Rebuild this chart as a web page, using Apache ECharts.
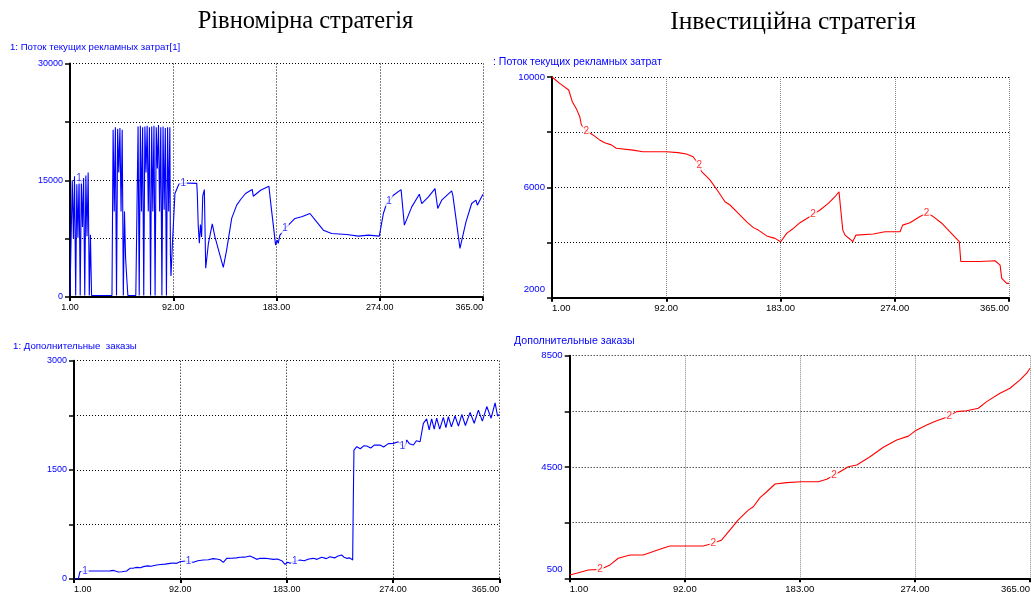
<!DOCTYPE html>
<html><head><meta charset="utf-8">
<script src="https://cdn.jsdelivr.net/npm/echarts@6/dist/echarts.min.js"></script>
<style>html,body{margin:0;padding:0;background:#fff}#c{width:1034px;height:596px}</style>
</head><body><div id="c"></div>
<script>
// ---------- DATA (day, value) ----------
const dayTicks = [1, 92, 183, 274, 365];

// Рівномірна стратегія: Поток текущих рекламных затрат[1]
const spendUniform = [
 [1,200],[2,200],[3,15000],[4,7500],[5,15500],[6,200],[7,14500],[8,7600],[9,15200],[10,200],
 [11,15000],[12,9000],[13,15300],[14,200],[15,15600],[16,7800],[17,16000],[18,200],[19,8000],[20,200],
 [38,200],[39,21500],[40,11000],[41,21800],[42,200],[43,21600],[44,16000],[45,21700],[46,11000],[47,21500],
 [48,200],[49,11000],[50,5000],[51,2500],[52,200],[59,200],[60,11000],[61,21900],[62,200],[63,22000],
 [64,11000],[65,21800],[66,200],[67,21900],[68,16000],[69,22000],[70,11000],[71,21800],[72,200],[73,21900],
 [74,11000],[75,22000],[76,200],[77,21800],[78,16500],[79,22100],[80,11000],[81,21800],[82,200],[83,21900],
 [84,11200],[85,21700],[86,200],[87,21800],[88,11000],[89,21800],[89.5,5500],[90,2700],[91,6000],[92,9000],
 [93.5,13300],[95.9,14140],[97,14500],[100.8,14650],[112.7,14600],[113.2,13300],[114,9200],[115,6900],[116,9300],[117,7700],
 [118,13000],[119.4,13800],[120.6,3700],[123,6900],[126.4,9400],[128.8,7700],[136.1,3800],[139,6000],[143.5,10100],[147.9,11800],
 [149,11580],[151.4,12530],[155.7,13300],[161.6,13820],[162.5,12950],[169,13720],[176.3,14230],[177.2,14000],[178.3,11580],[180.7,8590],
 [182.2,6670],[183.1,6450],[183.6,7310],[184.5,6900],[186,7950],[188,8300],[190.5,8800],[193.4,9230],[199.3,10090],[205.2,10300],
 [212.5,10730],[218.4,9650],[224.3,8590],[231.6,8160],[244.9,8030],[255.2,7820],[264,7950],[273.6,7820],[277.2,10730],[280.1,12010],
 [282.2,12300],[286,13080],[292.8,13800],[295.7,9230],[302.2,11580],[308.9,13200],[311,12010],[316.9,12860],[322.7,13930],[325.1,11370],
 [328.6,12440],[337.4,13640],[338.5,13000],[344.7,6240],[350,9650],[355,12010],[358.8,12440],[360,11800],[364.5,13080],[365,13200]
];
const spendUniformLabelDays = [9, 100.8, 190.5, 282.2];

// Інвестиційна стратегія: Поток текущих рекламных затрат
const spendInvest = [
 [1,10000],[7.1,9770],[14.3,9530],[17.2,9100],[20.9,8800],[23.1,8560],[24.4,8260],[28.3,8050],[33.6,7900],[38.9,7720],
 [42.9,7620],[48.2,7540],[52.2,7420],[65.5,7350],[73.5,7290],[92.1,7290],[101.4,7260],[108.1,7210],[113.4,7110],[118.3,6800],
 [120.2,6570],[126.8,6270],[133.5,5840],[138.8,5480],[142.8,5360],[149.4,5060],[156.1,4750],[161.4,4540],[165.3,4450],[172,4240],
 [178.6,4150],[183.2,4030],[187.9,4330],[193.2,4510],[198.5,4720],[206.5,4940],[209,5020],[214.5,5180],[221.1,5420],[226.4,5660],
 [229.6,5840],[232.6,4450],[234.4,4270],[238.4,4120],[240.5,4030],[243.1,4270],[256.9,4310],[266.2,4390],[278.2,4390],[280.3,4630],
 [286.1,4720],[294.1,4940],[299.4,5060],[304.7,4940],[311.4,4700],[318,4390],[325.4,4030],[326.6,3310],[342,3310],[353.9,3340],
 [357.9,3180],[359.2,2700],[363.2,2520],[365,2520]
];
const spendInvestLabelDays = [28.3, 118.3, 209, 299.4];

// Рівномірна стратегія: Дополнительные заказы
const ordersUniform = [
 [1,0],[4.7,0],[5.5,60],[6.1,100],[7.6,124],[10.4,110],[20,110],[31.8,112],[35,118],[38.9,96],
 [42,100],[46.1,110],[48.9,147],[52,150],[55,160],[58,155],[60.3,170],[64,180],[67,175],[71.8,192],
 [75,200],[79,205],[83.2,215],[86,220],[88.9,215],[91.7,238],[96,247],[99,240],[103.1,229],[107,250],
 [111.7,261],[116,265],[120,280],[123.1,275],[126,265],[128.8,229],[131.7,284],[136,285],[140,290],[143.1,298],
 [147,300],[151.6,316],[154,300],[157.4,270],[160.2,284],[165,285],[171.6,270],[175,275],[178.8,252],[181.6,202],
 [182.4,192],[184,230],[185.9,216],[190,240],[194.4,261],[198,250],[202,275],[205.8,284],[209,270],[213,300],
 [217,280],[220.1,306],[224,290],[227,315],[230.1,330],[232,300],[234.4,284],[237,290],[239.5,261],[240,1017],
 [240.6,1772],[243,1818],[246,1790],[249,1830],[251.5,1827],[255,1800],[258,1840],[262.9,1841],[266,1815],[270,1860],
 [274.3,1864],[276,1840],[278.6,1886],[282,1830],[283.5,1790],[285.8,1910],[288,1860],[291.5,1841],[294,1900],[297.2,1886],
 [300,2139],[302.8,2200],[305,2050],[307.1,2200],[309.3,2060],[311.4,2210],[314,2060],[317.1,2220],[319.3,2080],[321.4,2230],
 [324,2090],[327.1,2240],[330,2100],[332.9,2260],[336,2110],[340,2290],[343.5,2140],[347.1,2320],[350.5,2170],[354.3,2370],
 [358,2210],[361.4,2420],[363.5,2240],[365,2260]
];
const ordersUniformLabelDays = [10.4, 99, 190, 282];

// Інвестиційна стратегія: Дополнительные заказы
const ordersInvest = [
 [1,620],[6.5,680],[15.7,800],[25,820],[32.9,980],[39.4,1220],[48.7,1340],[59.2,1340],[67.1,1460],[76.4,1610],
 [80.3,1660],[106.6,1660],[114.6,1760],[121.2,1880],[127.8,2240],[134.3,2600],[142.2,2950],[146.2,3070],[151.5,3400],[156.8,3610],
 [163.4,3890],[172.6,3940],[183.7,3970],[197.6,3970],[204.2,4060],[210,4200],[214.7,4330],[221.3,4510],[228,4570],[238.5,4870],
 [249,5210],[259.6,5470],[268.8,5610],[274.3,5800],[283.3,6010],[291.2,6160],[299.1,6290],[301.2,6340],[307,6490],[314.9,6520],
 [324.1,6610],[330.7,6850],[341.3,7150],[349.2,7330],[357.1,7630],[362.4,7870],[365,8050]
];
const ordersInvestLabelDays = [25, 114.6, 210, 301.2];

// y-axis ranges [min, max, step] and labelled ticks
const yTL = [0, 30000, 7500],   yTLLabels = [0, 15000, 30000];
const yTR = [2000, 10000, 2000], yTRLabels = [2000, 6000, 10000];
const yBL = [0, 3000, 750],     yBLLabels = [0, 1500, 3000];
const yBR = [500, 8500, 2000],  yBRLabels = [500, 4500, 8500];

// ---------- CHART ----------
const SANS = '"Liberation Sans", Arial, sans-serif';
const SERIF = '"Liberation Serif", "Times New Roman", serif';
const BLUE = '#0000ff', RED = '#ff0000';
const d0 = dayTicks[0];
const toXY = (arr, off) => arr.map(p => [p[0] - d0, p[1] - off]);

const grids = [
  {left: 70, top: 63.5, width: 413, height: 233.5},
  {left: 552, top: 77, width: 457, height: 220.7},
  {left: 74, top: 360.7, width: 425.3, height: 218.3},
  {left: 569.7, top: 355.7, width: 460.3, height: 222.6}
];

function xAxis(i, gridColor, dash, minAlign, fs) {
  return {
    type: 'value', gridIndex: i, min: 0, max: dayTicks[dayTicks.length-1] - d0, interval: dayTicks[1] - dayTicks[0],
    axisLine: {show: true, onZero: false, lineStyle: {color: '#000', width: 2}},
    axisTick: {show: true, length: 4, lineStyle: {color: '#000', width: 2}},
    axisLabel: {formatter: v => (v + d0).toFixed(2), fontSize: fs, color: '#000', fontFamily: SANS, margin: 6,
                alignMinLabel: minAlign, alignMaxLabel: 'right'},
    splitLine: {show: true, lineStyle: {color: gridColor, width: 1, type: dash}}
  };
}
function yAxis(i, r, labels, fs, liftMin) {
  const off = r[0] % r[2];
  return {
    type: 'value', gridIndex: i, min: r[0] - off, max: r[1] - off, interval: r[2],
    axisLine: {show: true, onZero: false, lineStyle: {color: '#000', width: 2}},
    axisTick: {show: true, length: 5, lineStyle: {color: '#000', width: 1.5}},
    axisLabel: {formatter: v => {
                  if (labels.indexOf(v + off) < 0) return '';
                  return (liftMin && v + off === r[0]) ? '{lo|' + (v + off) + '}' : String(v + off);
                },
                rich: {lo: {fontSize: fs, color: BLUE, fontFamily: SANS, padding: [0, 0, 17, 0]}},
                fontSize: fs, color: BLUE, fontFamily: SANS, margin: 7},
    splitLine: {show: true, lineStyle: {color: '#000', width: 1, type: [1, 2]}}
  };
}
function lineSeries(i, arr, off, color) {
  return {type: 'line', xAxisIndex: i, yAxisIndex: i, data: toXY(arr, off), showSymbol: false,
          symbol: 'none', sampling: null, clip: true, lineStyle: {color: color, width: 1.1}, z: 3};
}
function labelSeries(i, arr, off, days, color, txt) {
  const pts = days.map(d => arr.find(p => p[0] === d)).filter(Boolean);
  return {type: 'scatter', xAxisIndex: i, yAxisIndex: i, data: toXY(pts, off), symbolSize: 2,
          itemStyle: {color: 'rgba(0,0,0,0)'}, z: 5, silent: true,
          label: {show: true, formatter: txt, position: 'inside', color: color, fontSize: 10,
                  fontFamily: SANS, backgroundColor: '#fff', padding: [0, 1]}};
}
function subTitle(text, left, top, fs) {
  return {text: text, left: left, top: top, padding: 0,
          textStyle: {fontFamily: SANS, fontSize: fs, fontWeight: 'normal', color: BLUE, lineHeight: 11}};
}

const offTR = yTR[0] % yTR[2], offBR = yBR[0] % yBR[2];
const option = {
  animation: false,
  backgroundColor: '#fff',
  title: [
    subTitle('1: Поток текущих рекламных затрат[1]', 10, 41.5, 9.6),
    subTitle(': Поток текущих рекламных затрат', 493, 56.5, 10.5),
    subTitle('1: Дополнительные  заказы', 13, 340.5, 9.7),
    subTitle('Дополнительные заказы', 514, 335.5, 10.6)
  ],
  graphic: [
    {type: 'text', x: 305.5, y: 22, style: {text: 'Рівномірна стратегія', font: '24.5px ' + SERIF,
       fill: '#000', textAlign: 'center', textVerticalAlign: 'middle'}},
    {type: 'text', x: 793, y: 22, style: {text: 'Інвестиційна стратегія', font: '25.5px ' + SERIF,
       fill: '#000', textAlign: 'center', textVerticalAlign: 'middle'}}
  ],
  grid: grids,
  xAxis: [xAxis(0, '#000', [1, 2], 'center', 9), xAxis(1, '#8a8a8a', [1, 1], 'left', 9.5),
          xAxis(2, '#000', [1, 2], 'left', 9), xAxis(3, '#8a8a8a', [1, 1], 'left', 9.5)],
  yAxis: [yAxis(0, yTL, yTLLabels, 9, false), yAxis(1, yTR, yTRLabels, 9.6, true),
          yAxis(2, yBL, yBLLabels, 9, false), yAxis(3, yBR, yBRLabels, 9.6, true)],
  series: [
    lineSeries(0, spendUniform, 0, BLUE),
    lineSeries(1, spendInvest, offTR, RED),
    lineSeries(2, ordersUniform, 0, BLUE),
    lineSeries(3, ordersInvest, offBR, RED),
    labelSeries(0, spendUniform, 0, spendUniformLabelDays, BLUE, '1'),
    labelSeries(1, spendInvest, offTR, spendInvestLabelDays, RED, '2'),
    labelSeries(2, ordersUniform, 0, ordersUniformLabelDays, BLUE, '1'),
    labelSeries(3, ordersInvest, offBR, ordersInvestLabelDays, RED, '2')
  ]
};
const chart = echarts.init(document.getElementById('c'), null, {renderer: 'canvas'});
chart.setOption(option);
</script>
</body></html>
